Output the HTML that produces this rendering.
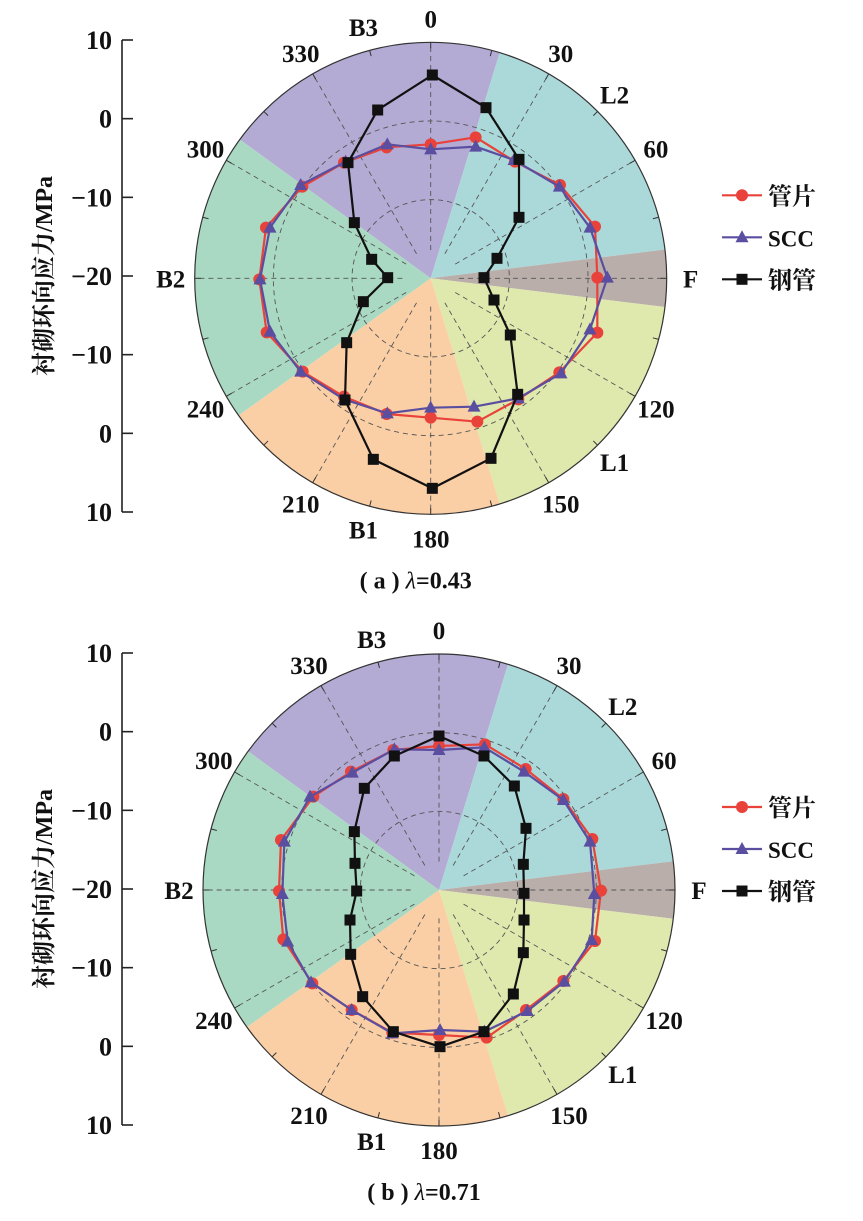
<!DOCTYPE html>
<html><head><meta charset="utf-8"><style>
body{margin:0;background:#fff}
svg text{font-family:"Liberation Serif","Noto Serif CJK SC",serif;fill:#111;font-weight:bold}
</style></head><body>
<svg id="s" width="863" height="1216" xmlns="http://www.w3.org/2000/svg"></svg>
<script>
const S=document.getElementById('s');let h='';
const cols=[[306,377,'#b4abd4'],[17,83,'#abd9da'],[83,97,'#b9aeaa'],[97,163,'#dfe8ad'],[163,234.5,'#fbcfa6'],[234.5,306,'#a9d9c2']];
function P(cx,cy,r,a){a=a*Math.PI/180;return [cx+r*Math.sin(a),cy-r*Math.cos(a)];}
function chart(cx,cy,R,ox,oy,axTop,steel,red,scc,lbl){
 for(const [a0,a1,c] of cols){const p0=P(cx,cy,R,a0),p1=P(cx,cy,R,a1);
  h+=`<path d="M${cx},${cy}L${p0[0]},${p0[1]}A${R},${R} 0 ${a1-a0>180?1:0} 1 ${p1[0]},${p1[1]}Z" fill="${c}"/>`;}
 for(const f of [1/3,2/3]) h+=`<circle cx="${cx}" cy="${cy}" r="${R*f}" fill="none" stroke="#555" stroke-width="0.9" stroke-dasharray="5,4"/>`;
 for(let a=0;a<360;a+=30){const p=P(cx,cy,R,a),q=P(cx,cy,R*0.12,a);h+=`<line x1="${q[0]}" y1="${q[1]}" x2="${p[0]}" y2="${p[1]}" stroke="#555" stroke-width="0.9" stroke-dasharray="5,4"/>`;}
 for(let a=0;a<360;a+=15){const p=P(cx,cy,R,a),q=P(cx,cy,R-6,a);h+=`<line x1="${q[0]}" y1="${q[1]}" x2="${p[0]}" y2="${p[1]}" stroke="#333"/>`;}
 h+=`<circle cx="${cx}" cy="${cy}" r="${R}" fill="none" stroke="#333" stroke-width="1.2"/>`;
 const labs=[[0,'0'],[30,'30'],[60,'60'],[120,'120'],[150,'150'],[180,'180'],[210,'210'],[240,'240'],[300,'300'],[330,'330'],[345,'B3'],[45,'L2'],[90,'F'],[135,'L1'],[195,'B1'],[270,'B2']];
 for(const [a,t] of labs){const p=P(cx,cy,R+24,a);h+=`<text x="${p[0]}" y="${p[1]+9}" font-size="25" text-anchor="middle">${t}</text>`;}
 const pts=(arr)=>arr.map(q=>[q[0]/3+ox,q[1]/3+oy]);
 const line=(arr,c)=>{const p=pts(arr);p.push(p[0]);h+=`<polyline points="${p.map(q=>q.join(',')).join(' ')}" fill="none" stroke="${c}" stroke-width="2.2"/>`;return p.slice(0,-1);};
 let p=line(red,'#e8423a');p.forEach(q=>h+=`<circle cx="${q[0]}" cy="${q[1]}" r="6" fill="#e8423a"/>`);
 p=line(scc,'#5a4ea0');p.forEach(q=>h+=`<path d="M${q[0]},${q[1]-7}L${q[0]+6.5},${q[1]+5}L${q[0]-6.5},${q[1]+5}Z" fill="#5a4ea0"/>`);
 p=line(steel,'#111');p.forEach(q=>h+=`<rect x="${q[0]-5.5}" y="${q[1]-5.5}" width="11" height="11" fill="#111"/>`);
 const st=R/3;h+=`<line x1="122" y1="${axTop}" x2="122" y2="${axTop+6*st}" stroke="#222" stroke-width="1.6"/>`;
 ['10','0','−10','−20','−10','0','10'].forEach((t,i)=>{const y=axTop+i*st;h+=`<line x1="122" y1="${y}" x2="133" y2="${y}" stroke="#222" stroke-width="1.6"/><text x="112" y="${y+9}" font-size="26" text-anchor="end">${t}</text>`;});
 h+=`<text transform="translate(52,${axTop+3*st}) rotate(-90)" font-size="24" text-anchor="middle">衬砌环向应力/MPa</text>`;
 const ly=cy-83;
 h+=`<line x1="722" y1="${ly}" x2="762" y2="${ly}" stroke="#e8423a" stroke-width="2.2"/><circle cx="742" cy="${ly}" r="6" fill="#e8423a"/><text x="768" y="${ly+9}" font-size="24">管片</text>`;
 h+=`<line x1="722" y1="${ly+42}" x2="762" y2="${ly+42}" stroke="#5a4ea0" stroke-width="2.2"/><path d="M742,${ly+35}L748.5,${ly+47}L735.5,${ly+47}Z" fill="#5a4ea0"/><text x="768" y="${ly+51}" font-size="23">SCC</text>`;
 h+=`<line x1="722" y1="${ly+84}" x2="762" y2="${ly+84}" stroke="#111" stroke-width="2.2"/><rect x="736.5" y="${ly+78.5}" width="11" height="11" fill="#111"/><text x="768" y="${ly+93}" font-size="24">钢管</text>`;
 h+=`<text x="${cx-15}" y="${cy+310}" font-size="24" text-anchor="middle">(  ${lbl[0]}  )  <tspan font-style="italic" font-weight="normal">λ</tspan>=${lbl[1]}</text>`;
}
chart(430.7,278.3,236,190,40,40,
[[727,105],[888,203],[987,358],[987,532],[921,655],[882,713],[912,780],[961,885],[983,1063],[903,1255],[727,1345],[550,1258],[465,1080],[470,908],[520,785],[593,713],[545,658],[493,548],[474,368],[563,210]],
[[722,313],[857,292],[975,365],[1110,435],[1215,560],[1222,713],[1222,878],[1108,997],[985,1078],[862,1145],[722,1133],[590,1122],[462,1070],[338,995],[230,877],[208,718],[228,563],[337,440],[462,368],[590,322]],
[[722,328],[857,320],[972,360],[1108,440],[1200,563],[1252,713],[1200,868],[1113,1000],[985,1075],[852,1100],[722,1103],[592,1120],[462,1078],[332,995],[240,875],[210,718],[240,563],[332,435],[467,365],[592,313]],['a','0.43']);
chart(439,890,236,195,650,653,
[[732,258],[867,318],[958,408],[993,535],[985,643],[987,730],[987,810],[985,908],[955,1032],[867,1145],[735,1190],[595,1145],[503,1040],[467,913],[465,810],[485,723],[480,640],[478,545],[508,415],[598,318]],
[[732,288],[870,283],[992,357],[1105,447],[1192,567],[1218,722],[1200,873],[1105,993],[993,1080],[875,1163],[732,1155],[592,1148],[470,1080],[352,1000],[265,868],[252,723],[258,570],[355,440],[468,365],[595,300]],
[[732,300],[868,292],[987,365],[1105,450],[1185,575],[1198,732],[1190,870],[1108,995],[997,1083],[868,1145],[735,1140],[592,1150],[470,1080],[348,997],[278,875],[262,732],[268,575],[345,440],[472,368],[598,298]],['b','0.71']);
S.innerHTML=h;
</script>
</body></html>
